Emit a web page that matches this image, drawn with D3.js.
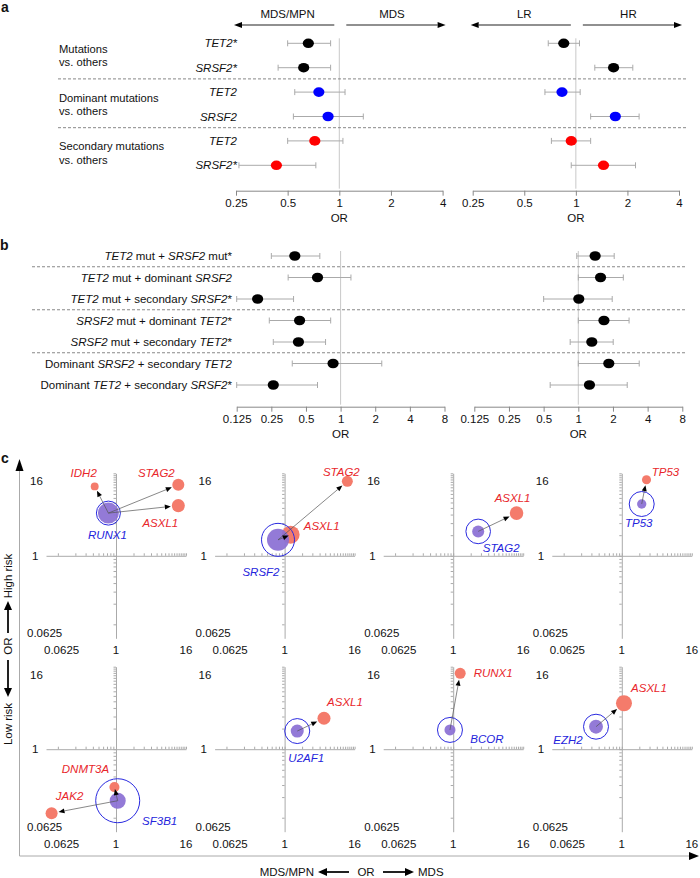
<!DOCTYPE html>
<html>
<head>
<meta charset="utf-8">
<script src="https://cdn.jsdelivr.net/npm/d3@7"></script>
<style>
  body { margin: 0; background: #fff; }
  text { font-family: "Liberation Sans", Arial, Helvetica, sans-serif; font-size: 11.5px; fill: #111; }
</style>
</head>
<body>
<script>
'use strict';

// ---------- panel a: single / dominant / secondary mutations vs. others
const aGroups = [['Mutations', 'vs. others'], ['Dominant mutations', 'vs. others'], ['Secondary mutations', 'vs. others']];
const aGenes = ['TET2', 'SRSF2', 'TET2', 'SRSF2', 'TET2', 'SRSF2'];
const aStar = ['*', '*', '', '', '', '*'];
const aType = ['mutation', 'mutation', 'dominant', 'dominant', 'secondary', 'secondary'];
const aDisOR = [0.66, 0.62, 0.76, 0.86, 0.72, 0.43];
const aDisLo = [0.50, 0.44, 0.55, 0.54, 0.50, 0.26];
const aDisHi = [0.89, 0.89, 1.08, 1.38, 1.05, 0.73];
const aRiskOR = [0.85, 1.66, 0.83, 1.70, 0.94, 1.45];
const aRiskLo = [0.69, 1.29, 0.66, 1.22, 0.72, 0.94];
const aRiskHi = [1.05, 2.15, 1.06, 2.34, 1.22, 2.23];
const aTicks = [0.25, 0.5, 1, 2, 4];

// ---------- panel b: combinations
const bLabels = [
  '_TET2_ mut + _SRSF2_ mut*',
  '_TET2_ mut + dominant _SRSF2_',
  '_TET2_ mut + secondary _SRSF2_*',
  '_SRSF2_ mut + dominant _TET2_*',
  '_SRSF2_ mut + secondary _TET2_*',
  'Dominant _SRSF2_ + secondary _TET2_',
  'Dominant _TET2_ + secondary _SRSF2_*'
];
const bDisOR = [0.40, 0.63, 0.19, 0.44, 0.43, 0.86, 0.26];
const bDisLo = [0.25, 0.35, 0.125, 0.24, 0.26, 0.38, 0.125];
const bDisHi = [0.66, 1.23, 0.39, 0.82, 0.74, 2.28, 0.63];
const bRiskOR = [1.40, 1.56, 1.01, 1.67, 1.31, 1.84, 1.25];
const bRiskLo = [0.97, 1.00, 0.50, 1.00, 0.85, 1.00, 0.57];
const bRiskHi = [2.05, 2.46, 1.97, 2.76, 2.01, 3.38, 2.66];
const bTicks = [0.125, 0.25, 0.5, 1, 2, 4, 8];

// ---------- panel c: dominant driver -> secondary partner
const cDriver = ['RUNX1', 'SRSF2', 'STAG2', 'TP53', 'SF3B1', 'U2AF1', 'BCOR', 'EZH2'];
const cDriverDisOR = [0.74, 0.77, 2.69, 2.2, 1.07, 1.65, 0.88, 0.36];
const cDriverRiskOR = [4.2, 1.71, 2.27, 5.7, 0.177, 1.84, 1.91, 2.13];
const cDriverDomN = [91, 100, 30, 18, 53, 35, 25, 40];
const cDriverAllN = [119, 225, 125, 129, 400, 129, 129, 129];
const cPartnerOf = [0, 0, 0, 1, 1, 2, 3, 4, 4, 5, 6, 7];
const cPartner = ['IDH2', 'STAG2', 'ASXL1', 'STAG2', 'ASXL1', 'ASXL1', 'TP53', 'DNMT3A', 'JAK2', 'ASXL1', 'RUNX1', 'ASXL1'];
const cPartnerDisOR = [0.43, 11.8, 11.8, 12, 1.27, 12.3, 2.66, 0.94, 0.078, 4.76, 1.32, 1.09];
const cPartnerRiskOR = [10.3, 10.9, 5.4, 12.2, 2.03, 4.2, 12.9, 0.28, 0.116, 2.83, 12.8, 4.69];
const cPartnerN = [13, 30, 35, 25, 67, 38, 17, 21, 30, 35, 25, 53];
const cTickLabels = [0.0625, 1, 16];
const cMinor = [0.1, 0.2, 0.3, 0.4, 0.5, 0.6, 0.7, 0.8, 0.9, 1, 2, 3, 4, 5, 6, 7, 8, 9, 10, 11, 12, 13, 14, 15, 16];

// label offsets (layout only)
const cDriverLab = [[-1, 22], [-17, 32], [23, 17], [-3, 19], [42, 20], [9, 27], [37, 9], [-28, 13]];
const cPartnerLab = [[-11, -13], [-22, -12], [-18, 17], [-6, -9], [31, -9], [-4, -15], [19, -8], [-29, -18], [18, -17], [21, -16], [33, 0], [25, -15]];

const typeColor = { mutation: '#000', dominant: '#0000ff', secondary: '#ff0000' };
const RED = '#f47b6b', RED_TXT = '#e8262b', BLUE_TXT = '#2424dc', PURPLE = '#8a6fd4';

const svg = d3.select('body').append('svg').attr('width', 700).attr('height', 878);

function arrow(g, x1, y1, x2, y2, o) {
  const a = Math.atan2(y2 - y1, x2 - x1);
  const bx = x2 - o.len * Math.cos(a), by = y2 - o.len * Math.sin(a);
  const hw = o.wid / 2;
  g.append('line').attr('x1', x1).attr('y1', y1).attr('x2', bx).attr('y2', by)
    .attr('stroke', o.stroke || '#222').attr('stroke-width', o.sw || 1);
  g.append('path')
    .attr('d', `M${x2},${y2}L${bx - hw * Math.sin(a)},${by + hw * Math.cos(a)}L${bx + hw * Math.sin(a)},${by - hw * Math.cos(a)}Z`)
    .attr('fill', o.head || '#000');
}

function rich(sel, str) {
  str.split('_').forEach((part, i) => {
    if (part) sel.append('tspan').style('font-style', i % 2 ? 'italic' : 'normal').text(part);
  });
}

function forest(o) {
  const g = svg.append('g');
  const x = d3.scaleLog().domain(o.domain).range(o.range);
  g.append('line').attr('x1', x(1)).attr('x2', x(1))
    .attr('y1', o.y(0) - 5).attr('y2', o.axisY - 2).attr('stroke', '#c8c8c8');
  const rows = g.selectAll('g.row').data(o.or).join('g').attr('class', 'row')
    .attr('transform', (d, i) => `translate(0,${o.y(i)})`);
  rows.append('line').attr('x1', (d, i) => x(o.lo[i])).attr('x2', (d, i) => x(o.hi[i]))
    .attr('stroke', '#aaa');
  [o.lo, o.hi].forEach(arr => {
    rows.append('line').attr('x1', (d, i) => x(arr[i])).attr('x2', (d, i) => x(arr[i]))
      .attr('y1', -3).attr('y2', 3).attr('stroke', '#aaa');
  });
  rows.append('ellipse').attr('cx', d => x(d)).attr('rx', 5.6).attr('ry', 4.8)
    .attr('fill', (d, i) => o.color(i));
  const ax = g.append('g').attr('transform', `translate(0,${o.axisY})`)
    .call(d3.axisBottom(x).tickValues(o.ticks).tickFormat(d => String(d)).tickSize(5).tickSizeOuter(0));
  ax.select('.domain').attr('stroke', '#888');
  ax.selectAll('.tick line').attr('stroke', '#888');
  ax.selectAll('.tick text').attr('font-size', null).style('font-size', '11.5px').attr('fill', '#111');
  ax.attr('font-family', null);
  g.append('text').attr('x', x(1)).attr('y', o.axisY + 31).attr('text-anchor', 'middle').text('OR');
  return x;
}

// ================= panel a =================
svg.append('text').attr('x', 1).attr('y', 12).style('font-weight', 'bold').style('font-size', '14px').text('a');
const aY = d3.scalePoint().domain(d3.range(aGenes.length)).range([43.3, 165.3]);
const aAxisY = 190.7;

const aL = forest({ domain: [0.25, 4], range: [236, 442.6], ticks: aTicks, y: aY, axisY: aAxisY,
  or: aDisOR, lo: aDisLo, hi: aDisHi, color: i => typeColor[aType[i]] });
const aR = forest({ domain: [0.25, 4], range: [472.7, 679], ticks: aTicks, y: aY, axisY: aAxisY,
  or: aRiskOR, lo: aRiskLo, hi: aRiskHi, color: i => typeColor[aType[i]] });

aGenes.forEach((gname, i) => {
  svg.append('text').attr('x', 237).attr('y', aY(i)).attr('text-anchor', 'end')
    .attr('dominant-baseline', 'central').style('font-style', 'italic').text(gname + aStar[i]);
});
aGroups.forEach((lines, k) => {
  const mid = (aY(2 * k) + aY(2 * k + 1)) / 2;
  lines.forEach((t, j) => {
    svg.append('text').attr('x', 59).attr('y', mid + (j ? 6.8 : -6.8))
      .attr('dominant-baseline', 'central').style('font-size', '11.2px').text(t);
  });
});
[1, 3].forEach(k => {
  const yy = (aY(k) + aY(k + 1)) / 2 - 1;
  svg.append('line').attr('x1', 58).attr('x2', 686).attr('y1', yy).attr('y2', yy)
    .attr('stroke', '#888').attr('stroke-dasharray', '3,2');
});
// direction arrows
const topG = svg.append('g');
[[aL, 'MDS/MPN', 'MDS'], [aR, 'LR', 'HR']].forEach(([x, lt, rt]) => {
  arrow(topG, x(1) - 5, 25, x(0.25) - 2, 25, { len: 8, wid: 6, sw: 1.2 });
  arrow(topG, x(1) + 7, 25, x(4) + 3, 25, { len: 8, wid: 6, sw: 1.2 });
  topG.append('text').attr('x', (x(1) + x(0.25)) / 2).attr('y', 14).attr('text-anchor', 'middle')
    .attr('dominant-baseline', 'central').text(lt);
  topG.append('text').attr('x', (x(1) + x(4)) / 2 + 1).attr('y', 14).attr('text-anchor', 'middle')
    .attr('dominant-baseline', 'central').text(rt);
});

// ================= panel b =================
svg.append('text').attr('x', 0).attr('y', 250).style('font-weight', 'bold').style('font-size', '14px').text('b');
const bY = d3.scalePoint().domain(d3.range(bLabels.length)).range([256, 385]);
const bAxisY = 406.7;
forest({ domain: [0.125, 8], range: [236.7, 444.5], ticks: bTicks, y: bY, axisY: bAxisY,
  or: bDisOR, lo: bDisLo, hi: bDisHi, color: () => '#000' });
forest({ domain: [0.125, 8], range: [474.3, 682.3], ticks: bTicks, y: bY, axisY: bAxisY,
  or: bRiskOR, lo: bRiskLo, hi: bRiskHi, color: () => '#000' });
bLabels.forEach((lab, i) => {
  const t = svg.append('text').attr('x', 232).attr('y', bY(i)).attr('text-anchor', 'end')
    .attr('dominant-baseline', 'central');
  rich(t, lab);
});
[0, 2, 4].forEach(k => {
  const yy = (bY(k) + bY(k + 1)) / 2;
  svg.append('line').attr('x1', 32).attr('x2', 686).attr('y1', yy).attr('y2', yy)
    .attr('stroke', '#888').attr('stroke-dasharray', '3,2');
});

// ================= panel c =================
svg.append('text').attr('x', 1).attr('y', 463).style('font-weight', 'bold').style('font-size', '14px').text('c');
const frame = svg.append('g');
frame.append('line').attr('x1', 19.5).attr('x2', 19.5).attr('y1', 856).attr('y2', 470).attr('stroke', '#aaa');
frame.append('line').attr('x1', 19.5).attr('x2', 692).attr('y1', 856).attr('y2', 856).attr('stroke', '#aaa');
frame.append('path').attr('d', 'M19.5,459L15.5,471L23.5,471Z').attr('fill', '#000');
frame.append('path').attr('d', 'M699,856L689,852L689,860Z').attr('fill', '#000');

// axis titles
const bot = svg.append('g');
bot.append('text').attr('x', 314).attr('y', 872).attr('text-anchor', 'end').attr('dominant-baseline', 'central').text('MDS/MPN');
arrow(bot, 349, 872, 318, 872, { len: 9, wid: 8, sw: 2 });
bot.append('text').attr('x', 366).attr('y', 872).attr('text-anchor', 'middle').attr('dominant-baseline', 'central').text('OR');
arrow(bot, 383, 872, 414, 872, { len: 9, wid: 8, sw: 2 });
bot.append('text').attr('x', 418).attr('y', 872).attr('dominant-baseline', 'central').text('MDS');

const side = svg.append('g');
side.append('text').attr('transform', 'translate(8,576) rotate(-90)').attr('text-anchor', 'middle').attr('dominant-baseline', 'central').text('High risk');
arrow(side, 8, 633, 8, 601, { len: 9, wid: 8, sw: 2 });
side.append('text').attr('transform', 'translate(8,646) rotate(-90)').attr('text-anchor', 'middle').attr('dominant-baseline', 'central').text('OR');
arrow(side, 8, 660, 8, 697, { len: 9, wid: 8, sw: 2 });
side.append('text').attr('transform', 'translate(8,724) rotate(-90)').attr('text-anchor', 'middle').attr('dominant-baseline', 'central').text('Low risk');

const rScale = d3.scaleSqrt().domain([0, 400]).range([0, 22]);

cDriver.forEach((name, i) => {
  const col = i % 4, row = Math.floor(i / 4);
  const left = 46 + col * 168.6, top = 473.3 + row * 193.4;
  const x = d3.scaleLog().domain([0.0625, 16]).range([left, left + 140]);
  const y = d3.scaleLog().domain([0.0625, 16]).range([top + 165, top]);
  const g = svg.append('g');

  const ax = g.append('g').attr('transform', `translate(0,${y(1)})`)
    .call(d3.axisTop(x).tickValues(cMinor).tickFormat('').tickSize(2.5).tickSizeOuter(0));
  const ay = g.append('g').attr('transform', `translate(${x(1)},0)`)
    .call(d3.axisLeft(y).tickValues(cMinor).tickFormat('').tickSize(2.5).tickSizeOuter(0));
  [ax, ay].forEach(a => a.selectAll('path, line').attr('stroke', '#aaa'));

  // tick labels
  cTickLabels.forEach((v, k) => {
    g.append('text').attr('x', k === 0 ? x(v) - 2 : x(v)).attr('y', y(0.0625) + 12)
      .attr('text-anchor', k === 0 ? 'start' : 'middle').attr('dominant-baseline', 'central').text(String(v));
    const yy = k === 0 ? y(v) - 5 : (k === 2 ? y(v) + 8 : y(v));
    const xx = k === 0 ? left - 19 : (k === 2 ? left - 16 : left - 14);
    g.append('text').attr('x', xx).attr('y', yy).attr('dominant-baseline', 'central').text(String(v));
  });

  const cx = x(cDriverDisOR[i]), cy = y(cDriverRiskOR[i]);
  const partners = d3.range(cPartner.length).filter(j => cPartnerOf[j] === i);

  partners.forEach(j => {
    g.append('circle').attr('cx', x(cPartnerDisOR[j])).attr('cy', y(cPartnerRiskOR[j]))
      .attr('r', rScale(cPartnerN[j])).attr('fill', RED);
  });
  g.append('circle').attr('cx', cx).attr('cy', cy).attr('r', rScale(cDriverDomN[i]))
    .attr('fill', PURPLE).attr('fill-opacity', 0.92);
  g.append('circle').attr('cx', cx).attr('cy', cy).attr('r', rScale(cDriverAllN[i]))
    .attr('fill', 'none').attr('stroke', '#2a2ae0').attr('stroke-width', 1);

  partners.forEach(j => {
    const px = x(cPartnerDisOR[j]), py = y(cPartnerRiskOR[j]);
    const r = rScale(cPartnerN[j]);
    const d = Math.hypot(px - cx, py - cy);
    const f = d > 2 * r + 6 ? (d - r - 1) / d : 0.85;
    arrow(g, cx, cy, cx + (px - cx) * f, cy + (py - cy) * f, { len: 6, wid: 5, sw: 0.7, stroke: '#555' });
    g.append('text').attr('x', px + cPartnerLab[j][0]).attr('y', py + cPartnerLab[j][1])
      .attr('text-anchor', 'middle').attr('dominant-baseline', 'central')
      .style('font-style', 'italic').style('fill', RED_TXT).text(cPartner[j]);
  });
  g.append('text').attr('x', cx + cDriverLab[i][0]).attr('y', cy + cDriverLab[i][1])
    .attr('text-anchor', 'middle').attr('dominant-baseline', 'central')
    .style('font-style', 'italic').style('fill', BLUE_TXT).text(name);
});
</script>
</body>
</html>
